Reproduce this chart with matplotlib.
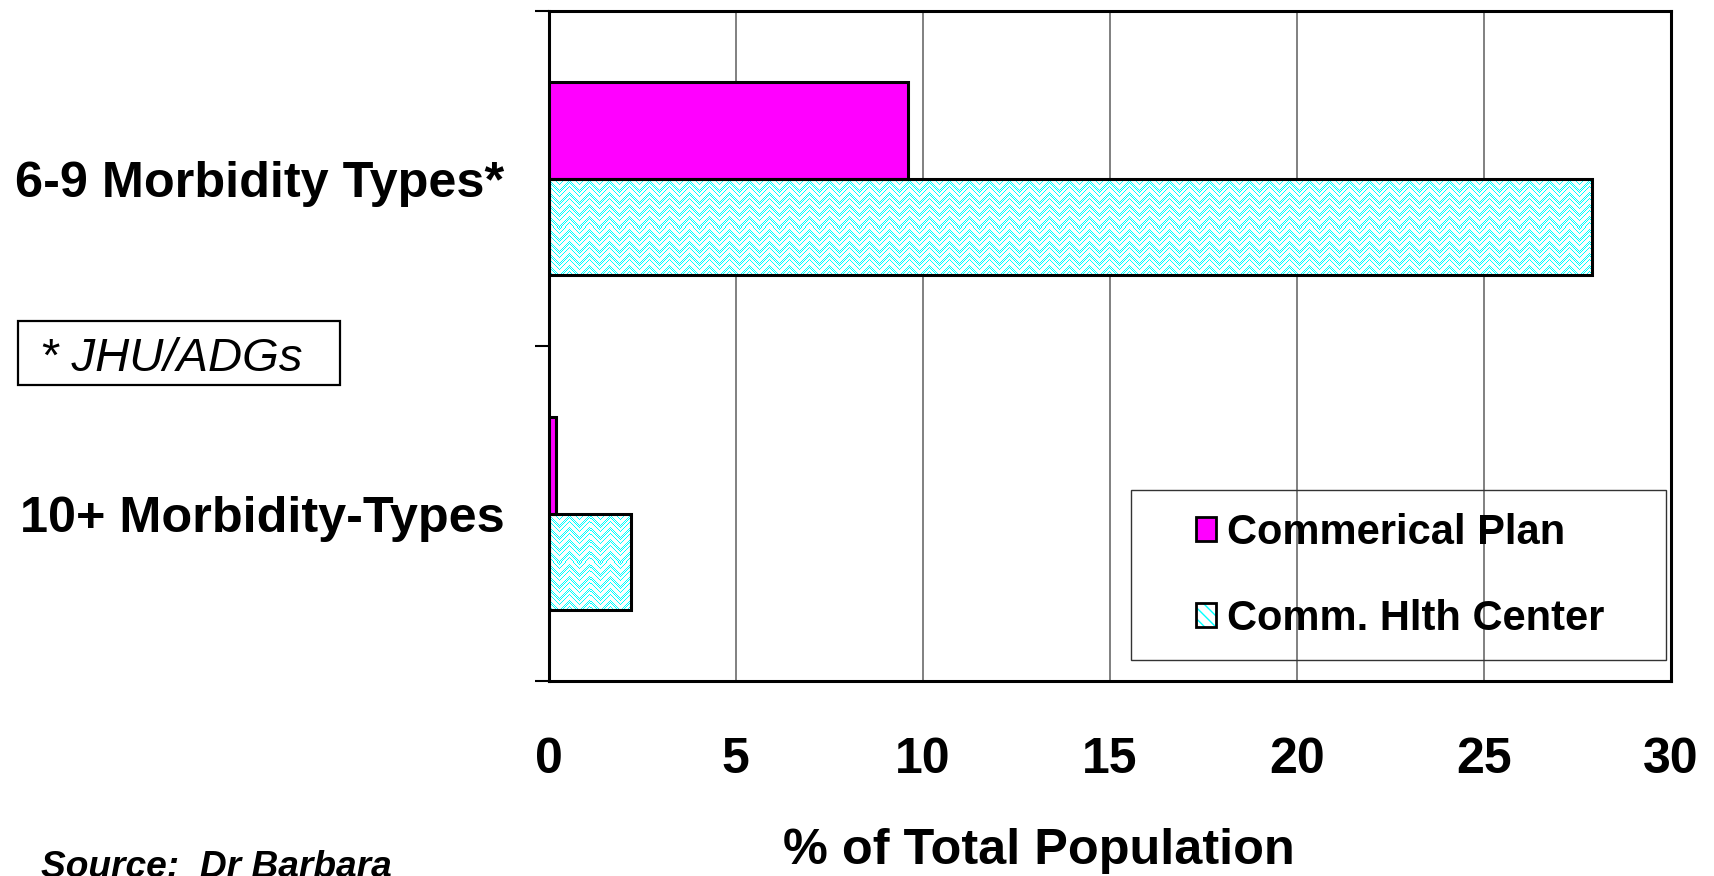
import numpy as np
import matplotlib
matplotlib.use("Agg")
import matplotlib.pyplot as plt
from matplotlib.patches import Patch, Rectangle
from matplotlib.legend_handler import HandlerTuple

plt.rcParams['font.family'] = ['Liberation Sans', 'DejaVu Sans']

# data: share of total population by number of morbidity types
categories = ['10+ Morbidity-Types', '6-9 Morbidity Types*']
commercial_plan = [0.2, 9.6]
comm_health_center = [2.2, 27.9]
series_names = ['Commerical Plan', 'Comm. Hlth Center']
xticks = [0, 5, 10, 15, 20, 25, 30]

PINK = '#FF00FF'
CYAN = '#00FFFF'


def weave_texture(h, w):
    """Dotted zigzag fill, cyan on white, one texel per screen pixel."""
    yy, xx = np.mgrid[0:h, 0:w]
    zig = np.abs((xx % 20) - 10)
    row = (yy + zig) % 12
    on = ((row < 3) | ((row >= 5) & (row < 8))) & ((xx + yy) % 2 == 0)
    img = np.ones((h, w, 4))
    img[on, 0] = 0.0
    return img


fig = plt.figure(figsize=(17.15, 8.76), dpi=100)
ax = fig.add_axes([0.320, 0.2226, 0.6543, 0.7648])

y = np.arange(len(categories))
h = 0.288
ax.barh(y + h / 2, commercial_plan, height=h, color=PINK, edgecolor='black',
        linewidth=2.2, zorder=3)
cyan_bars = ax.barh(y - h / 2, comm_health_center, height=h, facecolor='none',
                    edgecolor='black', linewidth=2.2, zorder=3)

ax.set_xlim(0, 30)
ax.set_ylim(-0.5, len(categories) - 0.5)
ax.set_xticks(xticks)
ax.set_xticklabels([str(t) for t in xticks], fontsize=36, fontweight='bold')
ax.tick_params(axis='x', length=0, pad=40)

# boundary ticks between groups, labels at the group centres
ax.set_yticks(np.arange(-0.5, len(categories)))
ax.set_yticklabels([])
ax.tick_params(axis='y', which='major', length=10, width=1.5, direction='out')
ax.set_yticks(y, minor=True)
ax.set_yticklabels(categories, minor=True, fontsize=36.3, fontweight='bold')
ax.tick_params(axis='y', which='minor', length=0, pad=32)

ax.grid(axis='x', color='#808080', linewidth=1.4)
ax.set_axisbelow(True)
for s in ax.spines.values():
    s.set_linewidth(2.2)

# patterned fill for the community health center bars
fig.canvas.draw()
for bar in cyan_bars:
    bb = bar.get_window_extent()
    tex = weave_texture(max(int(round(bb.height)), 1), max(int(round(bb.width)), 1))
    x0, y0 = bar.get_x(), bar.get_y()
    ax.imshow(tex, extent=(x0, x0 + bar.get_width(), y0, y0 + bar.get_height()),
              interpolation='nearest', aspect='auto', zorder=2.5)
ax.set_xlim(0, 30)
ax.set_ylim(-0.5, len(categories) - 0.5)

# legend
handles = [
    Patch(facecolor=PINK, edgecolor='black', linewidth=2),
    (Patch(facecolor='white', edgecolor=CYAN, hatch='\\\\\\', linewidth=0),
     Patch(facecolor='none', edgecolor='black', linewidth=2)),
]
ax.legend(handles, series_names, loc='center', bbox_to_anchor=(0.759, 0.157),
          frameon=False, prop={'size': 30, 'weight': 'bold'},
          handlelength=0.48, handleheight=0.48, handletextpad=0.26,
          labelspacing=1.1, handler_map={tuple: HandlerTuple(ndivide=1, pad=0)})
ax.add_patch(Rectangle((0.5187, 0.0313), 0.4768, 0.2537, transform=ax.transAxes,
                       facecolor='none', edgecolor='#333333', linewidth=1, zorder=4,
                       clip_on=False))

fig.text(0.606, 0.028, '% of Total Population', ha='center', va='center',
         fontsize=36.3, fontweight='bold')

# footnote box
fig.add_artist(Rectangle((18 / 1715, 1 - 385 / 876), 322 / 1715, 64 / 876,
                         transform=fig.transFigure, facecolor='none',
                         edgecolor='black', linewidth=1.6))
fig.text(40 / 1715, 1 - 371 / 876, '* JHU/ADGs', fontsize=34, fontstyle='italic',
         va='baseline')

fig.text(41 / 1715, -0.001, 'Source:  Dr Barbara', fontsize=26.7, fontweight='bold',
         fontstyle='italic', va='baseline')

fig.savefig('out.png', dpi=100)
